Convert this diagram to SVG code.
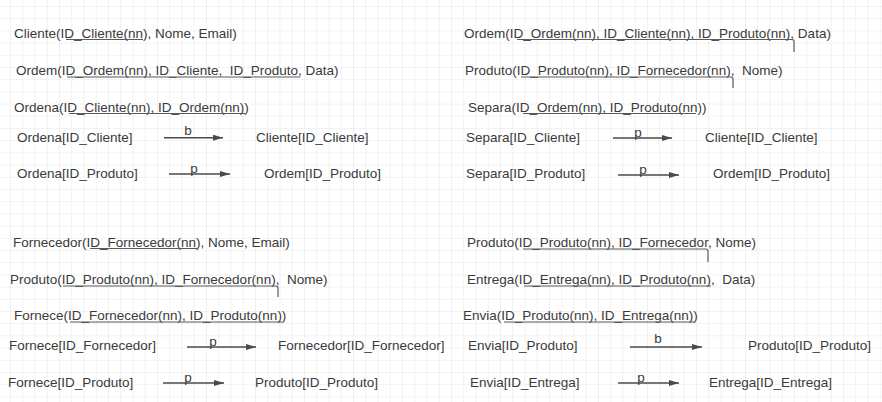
<svg xmlns="http://www.w3.org/2000/svg" width="882" height="402" viewBox="0 0 882 402">
  <style>
    .t { font-family: "Liberation Sans", Arial, sans-serif; font-size: 13.5px; fill: #3a3a3a; white-space: pre; }
    .lbl { font-family: "Liberation Sans", Arial, sans-serif; font-size: 13.5px; fill: #3a3a3a; text-anchor: middle; }
    .ul { fill: none; stroke: #5a5a5a; stroke-width: 1.2; }
    .arr { fill: none; stroke: #4a4a4a; stroke-width: 1.4; marker-end: url(#ah); }
  </style>
  <defs>
    <pattern id="grid" x="10" y="6" width="12.25" height="12.2" patternUnits="userSpaceOnUse">
      <path d="M0,0 H12.25 M0,0 V12.2" fill="none" stroke="#e5e5e5" stroke-width="1"/>
    </pattern>
    <marker id="ah" viewBox="0 0 10 6" refX="10" refY="3" markerWidth="10" markerHeight="6" markerUnits="userSpaceOnUse" orient="auto">
      <path d="M0,0 L10,3 L0,6 Z" fill="#4a4a4a"/>
    </marker>
  </defs>
  <rect x="0" y="0" width="882" height="402" fill="#ffffff"/>
  <rect x="0" y="0" width="882" height="402" fill="url(#grid)"/>

  <!-- Quadrant 1 -->
  <g id="n-cliente"><text class="t" x="14" y="37.5" xml:space="preserve">Cliente(ID_Cliente(nn), Nome, Email)</text></g>
  <g id="n-ordem1"><text class="t" x="16" y="75" xml:space="preserve">Ordem(ID_Ordem(nn), ID_Cliente,  ID_Produto, Data)</text></g>
  <g id="n-ordena"><text class="t" x="14" y="112" xml:space="preserve">Ordena(ID_Cliente(nn), ID_Ordem(nn))</text></g>
  <g id="n-ordena-cli"><text class="t" x="17" y="142">Ordena[ID_Cliente]</text></g>
  <g id="n-cliente-cli"><text class="t" x="256" y="142">Cliente[ID_Cliente]</text></g>
  <g id="n-ordena-prod"><text class="t" x="17" y="178">Ordena[ID_Produto]</text></g>
  <g id="n-ordem-prod"><text class="t" x="264" y="178">Ordem[ID_Produto]</text></g>

  <!-- Quadrant 2 -->
  <g id="n-ordem2"><text class="t" x="464" y="37.5" xml:space="preserve">Ordem(ID_Ordem(nn), ID_Cliente(nn), ID_Produto(nn), Data)</text></g>
  <g id="n-produto1"><text class="t" x="465" y="75" xml:space="preserve">Produto(ID_Produto(nn), ID_Fornecedor(nn),  Nome)</text></g>
  <g id="n-separa"><text class="t" x="468" y="112" xml:space="preserve">Separa(ID_Ordem(nn), ID_Produto(nn))</text></g>
  <g id="n-separa-cli"><text class="t" x="466" y="142">Separa[ID_Cliente]</text></g>
  <g id="n-cliente-cli2"><text class="t" x="705" y="142">Cliente[ID_Cliente]</text></g>
  <g id="n-separa-prod"><text class="t" x="466" y="178">Separa[ID_Produto]</text></g>
  <g id="n-ordem-prod2"><text class="t" x="713" y="178">Ordem[ID_Produto]</text></g>

  <!-- Quadrant 3 -->
  <g id="n-fornecedor"><text class="t" x="13" y="247" xml:space="preserve">Fornecedor(ID_Fornecedor(nn), Nome, Email)</text></g>
  <g id="n-produto2"><text class="t" x="10" y="284" xml:space="preserve">Produto(ID_Produto(nn), ID_Fornecedor(nn),  Nome)</text></g>
  <g id="n-fornece"><text class="t" x="14" y="320" xml:space="preserve">Fornece(ID_Fornecedor(nn), ID_Produto(nn))</text></g>
  <g id="n-fornece-forn"><text class="t" x="9" y="350">Fornece[ID_Fornecedor]</text></g>
  <g id="n-fornecedor-forn"><text class="t" x="278" y="350">Fornecedor[ID_Fornecedor]</text></g>
  <g id="n-fornece-prod"><text class="t" x="8" y="387">Fornece[ID_Produto]</text></g>
  <g id="n-produto-prod"><text class="t" x="255" y="387">Produto[ID_Produto]</text></g>

  <!-- Quadrant 4 -->
  <g id="n-produto3"><text class="t" x="467" y="247" xml:space="preserve">Produto(ID_Produto(nn), ID_Fornecedor, Nome)</text></g>
  <g id="n-entrega"><text class="t" x="467" y="284" xml:space="preserve">Entrega(ID_Entrega(nn), ID_Produto(nn),  Data)</text></g>
  <g id="n-envia"><text class="t" x="463" y="320" xml:space="preserve">Envia(ID_Produto(nn), ID_Entrega(nn))</text></g>
  <g id="n-envia-prod"><text class="t" x="468" y="350">Envia[ID_Produto]</text></g>
  <g id="n-produto-prod2"><text class="t" x="748" y="350">Produto[ID_Produto]</text></g>
  <g id="n-envia-entr"><text class="t" x="470" y="387">Envia[ID_Entrega]</text></g>
  <g id="n-entrega-entr"><text class="t" x="709" y="387">Entrega[ID_Entrega]</text></g>

  <!-- key underlines -->
  <g id="underlines">
    <path class="ul" d="M66,39.5 H143"/>
    <path class="ul" d="M67,77 H300"/>
    <path class="ul" d="M69,113.5 H245"/>
    <path class="ul" d="M517,39.5 H792 Q794,39.5 794,42 V52"/>
    <path class="ul" d="M521,77 H731 Q733,77 733,79.5 V88"/>
    <path class="ul" d="M523,113.5 H696"/>
    <path class="ul" d="M90,248.5 H197"/>
    <path class="ul" d="M63,286 H276 Q278,286 278,288.5 V297"/>
    <path class="ul" d="M70,322 H282"/>
    <path class="ul" d="M523,249 H706 Q708,249 708,251.5 V262"/>
    <path class="ul" d="M524,286 H711"/>
    <path class="ul" d="M504,322 H694"/>
  </g>

  <!-- connectors -->
  <g id="connectors">
    <path class="arr" d="M164,137.7 H223"/>
    <text class="lbl" x="188" y="135">b</text>
    <path class="arr" d="M169,174 H230"/>
    <text class="lbl" x="194" y="173">p</text>

    <path class="arr" d="M613,138 H672"/>
    <text class="lbl" x="638" y="137">p</text>
    <path class="arr" d="M618,175 H679"/>
    <text class="lbl" x="643" y="174">p</text>

    <path class="arr" d="M187,347 H256"/>
    <text class="lbl" x="213" y="346">p</text>
    <path class="arr" d="M163,383 H224"/>
    <text class="lbl" x="188" y="382">p</text>

    <path class="arr" d="M630,347 H702"/>
    <text class="lbl" x="658" y="343">b</text>
    <path class="arr" d="M618,383 H679"/>
    <text class="lbl" x="641" y="382">p</text>
  </g>
</svg>
